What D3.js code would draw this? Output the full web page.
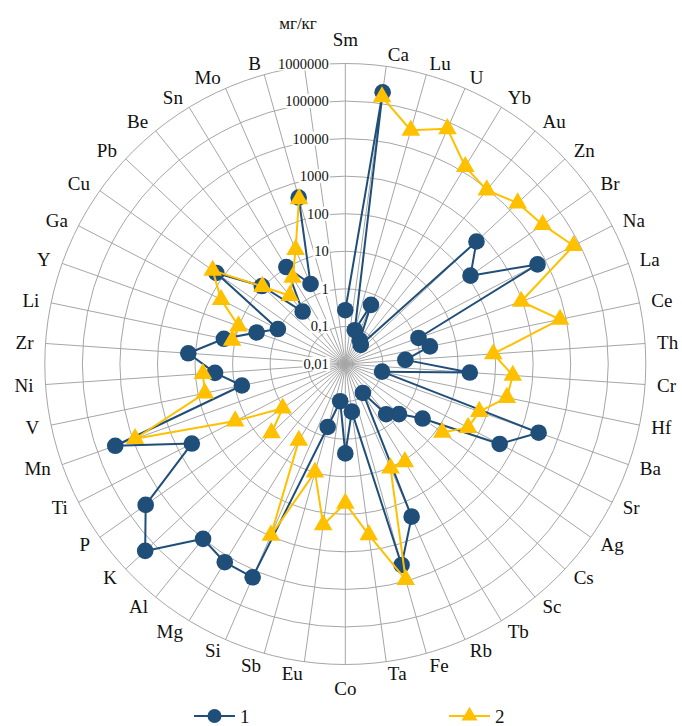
<!DOCTYPE html>
<html>
<head>
<meta charset="utf-8">
<script src="https://cdn.jsdelivr.net/npm/d3@7"></script>
<style>
html,body{margin:0;padding:0;background:#fff;}
svg{display:block;}
svg text{font-family:"Liberation Serif","Times New Roman",Times,Tinos,"DejaVu Serif","Noto Serif",serif;}
</style>
</head>
<body>
<svg id="chart" width="682" height="726"></svg>
<script>
const categories = ["Sm","Ca","Lu","U","Yb","Au","Zn","Br","Na","La","Ce","Th","Cr","Hf","Ba","Sr","Ag","Cs","Sc","Tb","Rb","Fe","Ta","Co","Eu","Sb","Si","Mg","Al","K","P","Ti","Mn","V","Ni","Zr","Li","Y","Ga","Cu","Pb","Be","Sn","Mo","B",""];
const series1 = [0.27,200000,0.086,0.52,0.055,0.045,600,120,5800,1.17,2.0,0.4,21,0.1,2900,425,3.3,0.9,0.53,0.08,270,3600,0.19,2.4,0.1,0.55,15500,15000,10000,195000,32000,400,31600,6.5,30,155,20,3.2,1.05,160,11,0.63,10.5,2.1,400,null];
const series2 = [null,150000,29000,67000,14000,9300,19000,27000,70000,930,6900,89,295,247,61,48,14.5,null,null,11.2,10.5,9100,390,51,210,9.8,940,2.4,null,4.9,1.1,20,8700,66,63,null,12,10.4,53,210,10.5,2.2,5.0,21,370,null];
const tickValues = [0.01,0.1,1,10,100,1000,10000,100000,1000000];
const tickLabels = ["0,01","0,1","1","10","100","1000","10000","100000","1000000"];
const seriesNames = ["1","2"];
const unitLabel = "мг/кг";

const colors = ["#1f4e79","#ffc000"];
const cx = 345.3, cy = 364, R = 300.5;
const svg = d3.select("#chart");
const g = svg.append("g").attr("transform",`translate(${cx},${cy})`);
const n = categories.length;
const ang = i => i * 2 * Math.PI / n;
const r = d3.scaleLog().domain([0.01,1000000]).range([0,R]);

// spokes
g.append("g").selectAll("line").data(categories).join("line")
  .attr("x1",0).attr("y1",0)
  .attr("x2",(d,i)=>R*Math.sin(ang(i))).attr("y2",(d,i)=>-R*Math.cos(ang(i)))
  .attr("stroke","#a6a6a6").attr("stroke-width",1);
// rings
g.append("g").selectAll("circle").data(tickValues.slice(1)).join("circle")
  .attr("r",d=>r(d)).attr("fill","none").attr("stroke","#a6a6a6").attr("stroke-width",1);

// tick labels
const tl = g.append("g");
tickValues.forEach((v,k)=>{
  const y = -r(v);
  const t = tl.append("text").attr("x",-16.5).attr("y",y+5).attr("text-anchor","end")
    .style("font-size","14.5px").attr("fill","#111").text(tickLabels[k]);
  const bb = t.node().getBBox();
  tl.insert("rect","text").attr("x",bb.x-1).attr("y",y-7).attr("width",bb.width+2).attr("height",14).attr("fill","#fff");
});

// category labels
const fs = 19;
g.append("g").selectAll("text").data(categories).join("text")
  .style("font-size",fs+"px").attr("fill","#111")
  .each(function(d,i){
    const a = ang(i), s = Math.sin(a), c = Math.cos(a);
    const px = (R+12)*s, py = -(R+12)*c;
    const el = d3.select(this).text(d);
    if (Math.abs(s) < 1e-6) {
      el.attr("text-anchor","middle").attr("x",px).attr("y", c>0 ? py-5.5 : py+18.5);
    } else {
      el.attr("text-anchor", s>0 ? "start" : "end").attr("x",px).attr("y",py+6.6);
    }
  });

// unit label
svg.append("text").attr("x",298).attr("y",29).attr("text-anchor","middle")
  .style("font-size","17px").attr("fill","#111").text(unitLabel);

// series
const allSeries = [series1, series2];
const line = d3.lineRadial()
  .angle(d=>ang(d.i)).radius(d=>r(d.v)).defined(d=>d.v!=null);
const triangle = d3.symbol().type(d3.symbolTriangle).size(150);
allSeries.forEach((vals,k)=>{
  const data = vals.map((v,i)=>({i,v}));
  const sg = g.append("g");
  sg.append("path").datum(data).attr("d",line).attr("fill","none")
    .attr("stroke",colors[k]).attr("stroke-width",2).attr("stroke-linejoin","round");
  const pts = data.filter(d=>d.v!=null);
  if (k===0) {
    sg.selectAll("circle").data(pts).join("circle")
      .attr("cx",d=>r(d.v)*Math.sin(ang(d.i))).attr("cy",d=>-r(d.v)*Math.cos(ang(d.i)))
      .attr("r",8.3).attr("fill",colors[k]);
  } else {
    sg.selectAll("path.m").data(pts).join("path").attr("class","m")
      .attr("d",triangle)
      .attr("transform",d=>`translate(${r(d.v)*Math.sin(ang(d.i))},${-r(d.v)*Math.cos(ang(d.i))})`)
      .attr("fill",colors[k]);
  }
});

// legend
const leg = svg.append("g");
const legX = [194,449];
seriesNames.forEach((nm,k)=>{
  const x0 = legX[k], y0 = 716;
  leg.append("line").attr("x1",x0).attr("x2",x0+41).attr("y1",y0).attr("y2",y0)
    .attr("stroke",colors[k]).attr("stroke-width",2);
  if (k===0) leg.append("circle").attr("cx",x0+20.5).attr("cy",y0).attr("r",7).attr("fill",colors[k]);
  else leg.append("path").attr("d",d3.symbol().type(d3.symbolTriangle).size(110)).attr("transform",`translate(${x0+20.5},${y0})`).attr("fill",colors[k]);
  leg.append("text").attr("x",x0+46).attr("y",y0+7).style("font-size","19px").attr("fill","#111").text(nm);
});
</script>
</body>
</html>
